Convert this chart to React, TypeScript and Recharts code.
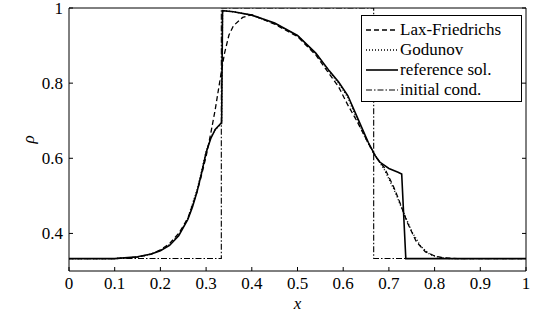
import React from "react";
import { LineChart, Line, XAxis, YAxis, Legend } from "recharts";

// x positions and densities
const refX = [0, 0.1, 0.15, 0.18, 0.2, 0.22, 0.24, 0.26, 0.27, 0.28, 0.29, 0.3, 0.31, 0.32, 0.33, 0.334, 0.336, 0.36, 0.4, 0.45, 0.5, 0.54, 0.57, 0.59, 0.61, 0.633, 0.655, 0.67, 0.68, 0.7, 0.72, 0.728, 0.737, 1];
const refRho = [0.333, 0.333, 0.338, 0.345, 0.354, 0.368, 0.394, 0.437, 0.47, 0.51, 0.56, 0.615, 0.652, 0.677, 0.69, 0.695, 0.993, 0.99, 0.981, 0.96, 0.927, 0.88, 0.832, 0.803, 0.767, 0.703, 0.642, 0.607, 0.59, 0.573, 0.563, 0.558, 0.333, 0.333];

const lfX = [0, 0.1, 0.15, 0.18, 0.2, 0.22, 0.24, 0.26, 0.28, 0.29, 0.3, 0.31, 0.32, 0.33, 0.34, 0.35, 0.36, 0.38, 0.4, 0.45, 0.5, 0.54, 0.57, 0.59, 0.61, 0.63, 0.65, 0.67, 0.69, 0.71, 0.72, 0.74, 0.76, 0.78, 0.8, 0.82, 0.85, 1];
const lfRho = [0.333, 0.333, 0.337, 0.345, 0.356, 0.373, 0.4, 0.44, 0.51, 0.555, 0.605, 0.665, 0.73, 0.805, 0.878, 0.928, 0.953, 0.975, 0.982, 0.957, 0.924, 0.875, 0.824, 0.79, 0.742, 0.699, 0.652, 0.605, 0.575, 0.525, 0.495, 0.43, 0.378, 0.351, 0.34, 0.335, 0.333, 0.333];

const godX = [0, 0.1, 0.15, 0.18, 0.2, 0.22, 0.24, 0.26, 0.28, 0.29, 0.3, 0.31, 0.32, 0.33, 0.334, 0.336, 0.36, 0.4, 0.45, 0.5, 0.54, 0.57, 0.59, 0.61, 0.63, 0.65, 0.67, 0.69, 0.71, 0.73, 0.75, 0.77, 0.79, 0.81, 0.83, 1];
const godRho = [0.333, 0.333, 0.337, 0.345, 0.355, 0.37, 0.396, 0.44, 0.515, 0.565, 0.618, 0.655, 0.676, 0.688, 0.692, 0.993, 0.99, 0.981, 0.959, 0.926, 0.879, 0.83, 0.8, 0.762, 0.705, 0.65, 0.608, 0.57, 0.52, 0.462, 0.405, 0.365, 0.344, 0.336, 0.333, 0.333];

const initX = [0, 0.3333, 0.3333, 0.6667, 0.6667, 1];
const initRho = [0.3333, 0.3333, 1, 1, 0.3333, 0.3333];

const xTicks = [0, 0.1, 0.2, 0.3, 0.4, 0.5, 0.6, 0.7, 0.8, 0.9, 1];
const yTicks = [0.4, 0.6, 0.8, 1];

const toPoints = (xs: number[], ys: number[]) => xs.map((x, i) => ({ x, y: ys[i] }));

const series = [
  { name: "Lax-Friedrichs", data: toPoints(lfX, lfRho), dash: "5 3", width: 1.3 },
  { name: "Godunov", data: toPoints(godX, godRho), dash: "1 2", width: 1.4 },
  { name: "reference sol.", data: toPoints(refX, refRho), dash: undefined, width: 1.6 },
  { name: "initial cond.", data: toPoints(initX, initRho), dash: "6 2 1.5 2", width: 1.1 },
];

const FONT = "Liberation Serif, DejaVu Serif, Times New Roman, serif";

const LegendBox = () => (
  <div
    style={{
      border: "1px solid #000",
      background: "#fff",
      padding: "4px 4px 1px 4px",
      fontFamily: FONT,
      fontSize: 17,
      color: "#000",
    }}
  >
    {series.map((s) => (
      <div key={s.name} style={{ display: "flex", alignItems: "center", height: 20, lineHeight: "20px" }}>
        <svg width={32} height={20} style={{ marginRight: 2 }}>
          <line x1={0} y1={10} x2={32} y2={10} stroke="#000" strokeWidth={s.width} strokeDasharray={s.dash} />
        </svg>
        <span>{s.name}</span>
      </div>
    ))}
  </div>
);

const hiddenTick = () => <g />;

export default function App() {
  return (
    <div style={{ position: "absolute", left: 0, top: 0, width: 545, height: 318, background: "#fff", fontFamily: FONT }}>
      <LineChart width={545} height={318} margin={{ top: 7, right: 18, bottom: 17, left: 29 }} style={{ fontFamily: FONT }}>
        <XAxis
          dataKey="x"
          type="number"
          domain={[0, 1]}
          ticks={xTicks}
          interval={0}
          allowDataOverflow
          height={30}
          tickSize={-4}
          tickMargin={10}
          stroke="#000"
          tick={{ fill: "#000", fontSize: 17, fontFamily: FONT }}
          label={{ value: "x", position: "center", dy: 17, fill: "#000", fontSize: 17, fontStyle: "italic", fontFamily: FONT }}
        />
        <XAxis
          xAxisId="top"
          orientation="top"
          type="number"
          domain={[0, 1]}
          ticks={xTicks}
          interval={0}
          allowDataOverflow
          height={1}
          tickSize={-4}
          stroke="#000"
          tick={hiddenTick}
        />
        <YAxis
          type="number"
          domain={[0.3, 1]}
          ticks={yTicks}
          interval={0}
          allowDataOverflow
          width={40}
          tickSize={-4}
          tickMargin={10}
          stroke="#000"
          tick={{ fill: "#000", fontSize: 17, fontFamily: FONT }}
          label={{ value: "ρ", angle: -90, position: "center", dx: -21, fill: "#000", fontSize: 17, fontStyle: "italic", fontFamily: FONT }}
        />
        <YAxis
          yAxisId="right"
          orientation="right"
          type="number"
          domain={[0.3, 1]}
          ticks={yTicks}
          interval={0}
          allowDataOverflow
          width={1}
          tickSize={-4}
          stroke="#000"
          tick={hiddenTick}
        />
        {series.map((s) => (
          <Line
            key={s.name}
            data={s.data}
            dataKey="y"
            name={s.name}
            type="linear"
            stroke="#000"
            strokeWidth={s.width}
            strokeDasharray={s.dash}
            dot={false}
            activeDot={false}
            isAnimationActive={false}
          />
        ))}
        <Legend
          layout="vertical"
          align="center"
          verticalAlign="middle"
          content={() => <LegendBox />}
          wrapperStyle={{ left: 361, top: 15, width: 161, height: "auto" }}
        />
      </LineChart>
    </div>
  );
}
